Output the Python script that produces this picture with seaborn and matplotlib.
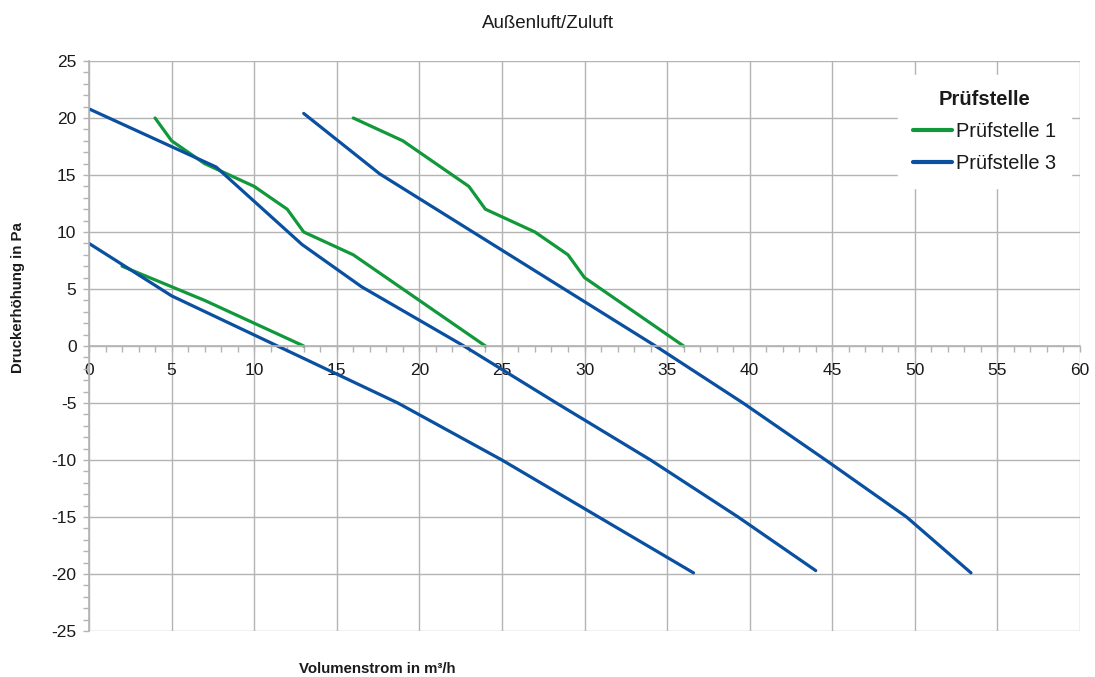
import numpy as np
import pandas as pd
import matplotlib
matplotlib.use("Agg")
import matplotlib.pyplot as plt
from matplotlib.ticker import MultipleLocator
import seaborn as sns

# ---- data ----
series_names = ["Prüfstelle 1", "Prüfstelle 3"]

# Prüfstelle 1 (three curves)
p1_a_x = [2, 5, 7, 10, 13]
p1_a_y = [7, 5.2, 4, 2, 0]
p1_b_x = [4, 5, 7, 10, 12, 13, 16, 20, 24]
p1_b_y = [20, 18, 16, 14, 12, 10, 8, 4, 0]
p1_c_x = [16, 19, 23, 24, 27, 29, 30, 36]
p1_c_y = [20, 18, 14, 12, 10, 8, 6, 0]

# Prüfstelle 3 (three curves)
p3_a_x = [0, 5, 18.7, 25, 36.6]
p3_a_y = [9, 4.4, -5, -10, -19.9]
p3_b_x = [0, 7.7, 12.9, 16.5, 22.7, 28.3, 34, 39.3, 44]
p3_b_y = [20.8, 15.7, 8.9, 5.2, 0, -5, -10, -15, -19.7]
p3_c_x = [13, 17.6, 34.3, 39.6, 44.6, 49.5, 53.4]
p3_c_y = [20.4, 15.1, 0, -5, -10, -15, -19.9]

x_ticks = list(range(0, 61, 5))
y_ticks = list(range(-25, 26, 5))

title = "Außenluft/Zuluft"
x_label = "Volumenstrom in m³/h"
y_label = "Druckerhöhung in Pa"
legend_title = "Prüfstelle"

curves = [
    ("Prüfstelle 1", "a", p1_a_x, p1_a_y),
    ("Prüfstelle 1", "b", p1_b_x, p1_b_y),
    ("Prüfstelle 1", "c", p1_c_x, p1_c_y),
    ("Prüfstelle 3", "a", p3_a_x, p3_a_y),
    ("Prüfstelle 3", "b", p3_b_x, p3_b_y),
    ("Prüfstelle 3", "c", p3_c_x, p3_c_y),
]
rows = []
for s, c, xs, ys in curves:
    for i, (x, y) in enumerate(zip(xs, ys)):
        rows.append({"Prüfstelle": s, "curve": s + c, "order": i, "x": x, "y": y})
df = pd.DataFrame(rows)

# ---- style ----
sns.set_theme(style="white")
plt.rcParams["font.family"] = ["Liberation Sans", "DejaVu Sans"]
plt.rcParams["axes.unicode_minus"] = False

palette = {"Prüfstelle 1": "#11983a", "Prüfstelle 3": "#0a50a0"}
grid_c = "#b3b3b3"
text_c = "#1a1a1a"

fig = plt.figure(figsize=(10.95, 6.77), dpi=100)
ax = fig.add_axes([89 / 1095, 1 - 631 / 677, (1080 - 89) / 1095, (631 - 61) / 677])

sns.lineplot(data=df, x="x", y="y", hue="Prüfstelle", units="curve",
             estimator=None, sort=False, palette=palette, linewidth=2.3,
             ax=ax, legend=True)

ax.set_xlim(0, 60)
ax.set_ylim(-25, 25)
ax.set_xticks(x_ticks)
ax.set_yticks(y_ticks)
ax.xaxis.set_minor_locator(MultipleLocator(1))
ax.yaxis.set_minor_locator(MultipleLocator(1))

ax.grid(True, which="major", color=grid_c, linewidth=1.0)
ax.set_axisbelow(True)

for side in ["top", "right"]:
    ax.spines[side].set_visible(False)
ax.spines["bottom"].set_position(("data", 0))
ax.spines["bottom"].set_color(grid_c)
ax.spines["left"].set_color(grid_c)
ax.spines["bottom"].set_linewidth(1.2)
ax.spines["left"].set_linewidth(1.2)

ax.tick_params(axis="x", which="both", bottom=True, direction="out", color=grid_c,
               length=4, width=1, labelsize=12.5, pad=8, labelcolor=text_c)
ax.tick_params(axis="y", which="both", left=True, direction="out", color=grid_c,
               length=4, width=1, labelsize=12.5, pad=5, labelcolor=text_c)

ax.set_xlabel("")
ax.set_ylabel("")
fig.text(377 / 1095, 1 - 669 / 677, x_label, ha="center", va="center",
         fontsize=10.8, fontweight="bold", color=text_c)
fig.text(18 / 1095, 1 - 298 / 677, y_label, ha="center", va="center",
         rotation=90, fontsize=10.8, fontweight="bold", color=text_c)
fig.text(548 / 1095, 1 - 23 / 677, title, ha="center", va="center",
         fontsize=13.5, color=text_c)

leg = ax.legend(title=legend_title, loc="upper right",
                bbox_to_anchor=(1071 / 1095, 1 - 75 / 677),
                bbox_transform=fig.transFigure,
                frameon=True, fontsize=14.4, title_fontsize=14.5,
                handlelength=1.95, handletextpad=0.2, borderpad=0.75,
                labelspacing=0.65, borderaxespad=0)
leg.get_title().set_fontweight("bold")
leg.get_title().set_color(text_c)
for t in leg.get_texts():
    t.set_color(text_c)
leg.get_frame().set_facecolor("white")
leg.get_frame().set_edgecolor("white")
leg.get_frame().set_alpha(1.0)
leg.get_frame().set_boxstyle("square", pad=0)
for line in leg.get_lines():
    line.set_linewidth(3)

fig.savefig("out.png", dpi=100)
